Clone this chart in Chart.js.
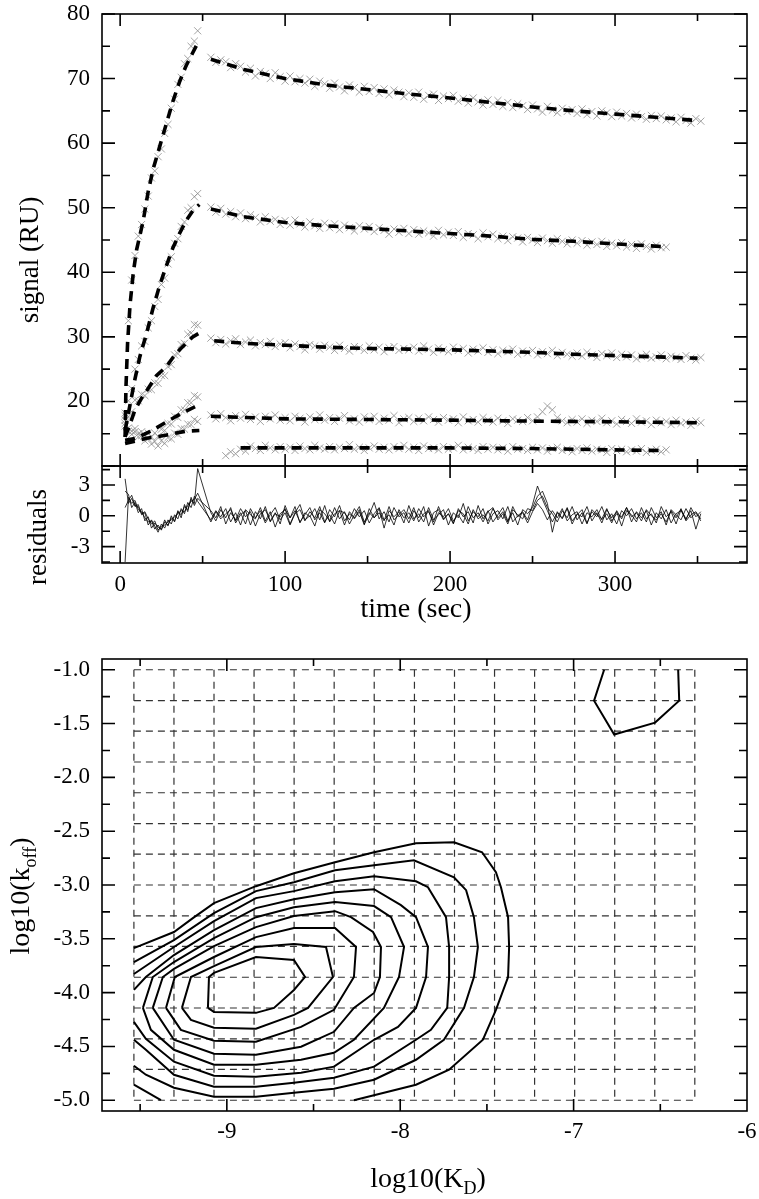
<!DOCTYPE html>
<html>
<head>
<meta charset="utf-8">
<script src="https://cdn.jsdelivr.net/npm/chart.js@4.4.1/dist/chart.umd.min.js"></script>
<style>
  body { margin: 0; background: #fff; }
  #page { position: relative; width: 759px; height: 1199px; overflow: hidden; }
  canvas { position: absolute; left: 0; }
  #signal { top: 0; }
  #resid { top: 446px; }
  #contour { top: 640px; }
</style>
</head>
<body>
<div id="page">
  <canvas id="signal" width="759" height="480"></canvas>
  <canvas id="resid" width="759" height="200"></canvas>
  <canvas id="contour" width="759" height="559"></canvas>
</div>
<script>
// ---- sensorgram data (time in sec, signal in RU) ----
const assocTime = [3,5,7,9,11,13,15,17,19,21,23,25,27,29,31,33,35,37,39,41,43,45,47];
const dissocTime = [55,58,61,64,67,70,73,76,79,82,85,88,91,94,97,100,103,106,109,112,115,118,121,124,127,130,133,136,139,142,145,148,151,154,157,160,163,166,169,172,175,178,181,184,187,190,193,196,199,202,205,208,211,214,217,220,223,226,229,232,235,238,241,244,247,250,253,256,259,262,265,268,271,274,277,280,283,286,289,292,295,298,301,304,307,310,313,316,319,322,325,328,331,334,337,340,343,346,349,352];

const sigAssoc1 = [17.8,32.5,38.8,42.6,45.6,47.4,49.8,51.8,54.6,55.7,57.9,59.1,61.5,62.9,65.4,66.8,69.1,70.2,72.3,73.1,75.0,75.8,77.4];
const sigAssoc2 = [18.2,20.1,22.0,25.0,26.5,28.6,29.3,31.4,32.5,34.7,35.8,38.1,39.1,41.3,42.4,44.5,45.2,47.1,47.8,49.6,50.0,51.7,52.2];
const sigAssoc3 = [17.1,17.6,18.4,20.2,20.1,21.1,20.9,21.9,21.8,22.9,22.8,24.0,24.0,25.4,25.7,27.2,27.4,28.8,29.0,30.4,30.6,31.9,31.8];
const sigAssoc4 = [16.6,15.9,15.4,15.8,15.0,15.3,14.7,15.1,14.5,15.1,14.6,15.7,15.5,16.6,16.5,17.7,17.5,18.7,18.7,19.8,19.8,20.9,20.7];
const sigAssoc5 = [16.2,15.4,14.9,15.3,14.5,14.7,13.9,14.2,13.4,13.8,13.1,13.9,13.5,14.4,14.2,15.1,14.9,15.8,15.7,16.5,16.4,17.2,16.9];

const sigDissoc1 = [73.3,72.5,72.9,72.6,71.7,72.3,71.9,71.0,71.6,70.4,71.1,70.8,70.0,70.9,70.3,69.6,
  70.4,69.5,70.0,69.3,69.9,68.8,69.6,69.2, 68.5,69.3,68.7,68.1,69.0,68.6,67.9,68.8,
  68.0,68.6,67.7,68.4,67.5,68.2,67.9,67.2,67.8, 67.1,67.9,66.8,67.4,67.6,66.6,67.3,66.9,
  67.4,66.5,66.9,66.2,67.0,66.4,65.9,66.7, 66.0,66.6,65.7,66.3,65.5,66.1,65.8,65.2,65.9,
  65.3,64.8,65.7,65.1,64.7,65.4,64.9,65.2, 64.6,65.3,64.4,64.9,64.2,65.0,64.7,64.1,
  64.8,64.2,64.6,63.9,64.5,64.1,63.7,64.3,63.8, 64.2,63.6,63.9,63.3,64.0,63.5,63.1,63.8,63.4];
const sigDissoc2 = [50.1,49.3,49.9,49.0,49.4,48.6,49.2,48.3,48.9,48.5,47.8,48.6,47.9,48.2,47.4,48.0,
  47.3,48.1,47.5,47.0,47.8,47.2,46.8,47.6, 46.9,47.5,46.6,47.3,46.9,46.4,47.2,46.7,
  47.1,46.3,46.9,46.5,45.9,46.7,46.2,46.8,46.0, 46.6,45.9,46.4,46.1,45.6,46.5,45.8,46.2,
  45.7,46.3,45.4,46.0,45.8,45.2,46.1,45.5, 45.9,45.2,45.6,44.9,45.5,45.3,44.7,45.4,45.0,
  44.6,45.3,44.9,44.5,45.2,44.8,44.4,45.0, 44.5,44.9,44.2,44.7,44.3,44.8,44.0,44.5,
  44.1,44.6,43.9,44.3,43.7,44.4,44.0,43.6,44.2, 43.8,43.9];
const sigDissoc3 = [29.8,29.1,29.6,28.9,29.4,29.7,28.8,29.2,29.5,28.6,29.1,28.8,29.3,28.5,28.9,29.1,
  28.3,28.9,28.5,28.0,28.8,28.6,28.1,28.7, 28.4,27.9,28.7,28.2,27.8,28.5,28.3,27.9,
  28.6,28.0,28.4,27.7,28.3,28.5,27.9,28.2,28.0, 28.4,27.8,28.6,28.1,27.6,28.3,28.0,27.7,
  28.4,27.9,28.2,27.5,28.1,27.8,28.3,27.6, 28.0,27.4,27.9,27.7,28.1,27.3,27.8,27.5,27.9,
  27.2,27.7,27.4,27.9,27.1,27.6,27.3,27.0, 27.5,27.0,27.6,27.2,26.8,27.4,27.1,27.5,
  26.8,27.3,26.9,27.2,26.6,27.0,27.3,26.7,26.9, 27.2,26.6,27.0,26.8,26.5,27.1,26.7,26.4,26.8];
const sigDissoc4 = [17.9,17.3,18.1,17.5,17.0,17.8,17.4,18.0,17.2,17.6,16.9,17.7,17.3,17.9,17.1,17.5,
  17.0,17.7,17.4,16.8,17.6,17.2,17.9,17.1, 17.5,16.9,17.4,17.8,17.0,17.3,16.8,17.6,
  17.2,17.7,16.9,17.4,17.1,17.8,16.7,17.3,17.5, 16.9,17.4,17.0,17.6,17.2,16.8,17.5,17.1,
  17.3,16.7,17.6,17.0,17.2,16.8,17.5,17.1, 16.8,17.4,17.0,16.6,17.3,17.1,16.9,17.5,17.0,
  17.6,18.4,19.3,18.7,17.5,17.0,16.7,17.2, 16.8,17.3,16.6,17.1,16.9,17.4,16.7,17.0,
  16.5,17.2,16.9,16.6,17.3,16.8,17.0,16.4,17.1, 16.7,16.9,16.4,17.1,16.6,16.8,16.3,17.0,16.7];
const sigDissoc5 = [null,null,null,11.6,12.2,11.9,12.6,12.3,13.1,12.7,12.4,13.2,12.8,12.5,13.0,12.6,
  12.9,12.4,13.1,12.7,12.5,13.2,12.8,12.6, 13.0,12.5,12.9,12.7,13.3,12.6,12.9,12.4,
  12.8,13.1,12.6,12.9,12.5,13.0,12.7,13.2,12.6, 12.9,12.4,13.1,12.7,12.8,12.5,13.0,12.6,
  12.8,13.2,12.5,12.9,12.7,12.4,13.0,12.6, 12.9,12.5,12.8,12.3,13.0,12.6,12.7,12.4,12.9,
  12.5,12.8,12.3,12.7,12.9,12.4,12.6,12.2, 12.7,12.4,12.8,12.3,12.6,12.5,12.1,12.7,
  12.4,12.6,12.2,12.5,12.3,12.7,12.1,12.4,12.6, 12.2,12.5];

// fitted curves (association and dissociation phases)
const fitAssocT1 = [3,3.5,4.5,6,8,10,14,17,20,24,28,32,36,40,44,48];
const fitAssoc1 = [14.5,22,29,35,40,43.5,48,52.5,56,59.5,63,66.5,69.5,72,74,76];
const fitAssocT2 = [3,6,9,12,16,20,24,28,32,36,40,44,48];
const fitAssoc2 = [15.5,19.5,23.5,27,30.5,34.5,38,41,43.8,46,48,49.5,50.5];
const fitAssocT3 = [3,6,9,13,17,22,28,32,36,40,44,48];
const fitAssoc3 = [14.5,16.5,18.7,20.5,22,24,25.4,26.8,28,29,30,30.6];
const fitAssocT4 = [3,8,12,17,22,28,34,40,48];
const fitAssoc4 = [14,14.2,14.6,15.2,15.9,16.8,17.7,18.5,19.5];
const fitAssocT5 = [3,10,16,24,32,40,48];
const fitAssoc5 = [13.5,13.9,14.3,14.6,15,15.4,15.5];

const fitDissocT1 = [55,75,100,125,150,175,200,225,250,275,300,325,350];
const fitDissoc1 = [73,71.4,70,69,68.3,67.6,67,66.3,65.6,65,64.5,64,63.5];
const fitDissocT2 = [55,75,100,125,150,175,200,225,250,275,300,328];
const fitDissoc2 = [49.8,48.6,47.7,47.2,46.8,46.4,46,45.6,45.1,44.8,44.4,44];
const fitDissocT3 = [57,75,100,125,150,175,200,225,250,275,300,325,350];
const fitDissoc3 = [29.4,29,28.7,28.4,28.2,28.1,28,27.8,27.6,27.3,27.1,26.9,26.7];
const fitDissocT4 = [55,100,150,200,250,300,350];
const fitDissoc4 = [17.7,17.3,17.2,17.1,16.95,16.85,16.7];
const fitDissocT5 = [73,100,150,200,250,300,328];
const fitDissoc5 = [12.8,12.8,12.8,12.8,12.7,12.5,12.4];

// residuals
const resAssoc1 = [-4.5,1.8,1.2,1.5,0.6,0.4,-0.2,-0.6,-0.5,-1.3,-0.9,-1.4,-0.6,-0.9,-0.2,-0.5,0.4,0.1,0.9,0.6,1.6,1.2,4.6];
const resAssoc2 = [3.6,1.2,1.7,0.9,1.1,0.1,0.3,-0.9,-0.4,-1.0,-1.6,-0.8,-1.2,-0.4,-0.8,0.1,-0.3,0.7,0.2,1.3,0.8,1.9,1.4];
const resAssoc3 = [2.4,2.1,0.8,1.3,0.3,0.7,-0.5,-0.1,-1.2,-0.7,-1.1,-1.3,-0.4,-1.0,0.0,-0.6,0.5,-0.2,1.1,0.4,1.8,1.0,1.7];
const resAssoc4 = [0.8,1.5,2.0,1.0,0.9,0.2,0.4,-0.3,-0.8,-0.5,-1.4,-1.0,-0.9,-0.6,-0.4,-0.1,0.2,0.5,0.4,1.0,1.4,1.6,2.2];
const resDissoc1 = [0.3,-0.5,0.6,-0.2,0.8,-0.7,0.1,0.5,-0.9,0.4, -0.3,0.9,-0.6,0.2,-0.1,0.7,-0.8,0.3,1.1,-0.4,
  0.0,-1.0,0.6,0.2,-0.5,0.8,-0.3,0.4,-0.8,0.1, 0.9,-0.6,0.3,-0.2,0.7,-1.2,0.5,-0.1,0.4,-0.7,
  1.0,-0.3,0.2,-0.6,0.8,-0.4,0.1,0.6,-0.9,0.3, -0.2,1.2,-0.5,0.4,-0.1,0.7,-0.8,0.2,0.5,-0.3,
  0.9,-0.6,0.0,0.4,-0.4,1.1,2.9,1.6,0.5,-0.6, 0.3,-0.2,0.8,-0.5,0.1,0.6,-0.7,0.4,-0.1,0.9,
  -0.4,0.2,-0.8,0.5,0.0,0.7,-0.3,0.3,-0.6,0.8, -0.2,0.4,-0.9,0.6,0.1,-0.4,0.7,-0.2,0.3,-0.5];
const resDissoc2 = [-0.4,0.5,-0.1,0.7,-0.6,0.3,-0.9,0.6,0.1,-0.3, 0.8,-0.5,0.4,-1.1,0.2,0.6,-0.2,0.9,-0.7,0.3,
  -0.1,0.7,-0.4,1.0,-0.6,0.2,0.5,-0.9,0.4,-0.2, 0.6,-0.8,0.1,1.3,-0.3,0.4,-0.6,0.8,-0.1,0.3,
  -0.7,0.5,-0.2,0.9,-1.0,0.3,0.6,-0.4,0.2,-0.8, 0.7,-0.1,0.4,-0.7,1.0,-0.3,0.5,-0.6,0.1,0.8,
  -0.5,0.3,-0.9,0.6,0.2,0.8,1.9,2.4,1.2,-1.6, 0.4,-0.3,0.7,-0.8,0.2,-0.1,0.9,-0.5,0.3,-0.7,
  0.6,-0.2,0.4,-1.0,0.5,0.1,-0.6,0.8,-0.3,0.2, -0.7,0.9,-0.1,0.4,-0.8,0.6,-0.3,0.5,-1.3,0.2];
const resDissoc3 = [0.5,-0.2,0.9,-0.8,0.3,-0.4,0.7,-0.1,0.4,-1.0, 0.2,0.6,-0.5,0.3,-0.8,1.0,-0.2,0.5,-0.6,0.1,
  0.8,-0.4,0.3,-0.7,0.6,-0.1,1.0,-0.5,0.2,-0.3, 0.4,-0.9,0.7,-0.2,0.3,-0.5,0.9,-0.4,0.1,0.6,
  -0.3,0.8,-0.6,0.2,0.5,-0.9,0.3,-0.1,0.7,-0.5, 0.1,-0.7,0.9,-0.2,0.3,-0.6,0.4,0.8,-0.4,0.2,
  -0.8,0.6,0.1,-0.3,0.7,0.5,1.5,1.9,0.8,0.2, -0.6,0.5,-0.2,0.9,-0.4,0.3,-0.8,0.6,0.1,-0.3,
  0.7,-0.5,0.2,-0.1,0.8,-0.6,0.4,-0.2,0.5,-0.9, 0.3,-0.3,0.6,-0.7,0.2,0.5,-0.4,0.8,-0.1,0.4];
const resDissoc4 = [-0.6,0.4,-0.3,0.2,0.6,-0.5,0.3,-0.8,0.7,-0.2, 0.5,-0.7,0.1,0.8,-0.4,0.3,-0.9,0.2,0.6,-0.5,
  0.4,-0.2,0.9,-0.6,0.1,-0.8,0.5,0.3,-0.4,0.7, -0.1,0.5,-0.7,0.2,0.8,-0.4,0.1,-0.9,0.6,-0.2,
  0.3,-0.5,0.7,-0.1,0.4,-0.6,0.9,-0.3,0.2,-0.7, 0.5,0.2,-0.8,0.6,-0.3,0.1,-0.5,0.7,-0.2,0.4,
  -0.6,0.9,-0.1,0.3,-0.7,0.4,1.2,0.6,-0.4,0.5, -0.2,0.7,-0.5,0.1,0.4,-0.8,0.3,-0.1,0.6,-0.4,
  0.2,-0.7,0.5,-0.3,0.8,-0.1,0.3,-0.5,0.6,0.0, -0.4,0.2,-0.6,0.5,-0.2,0.7,-0.5,0.1,0.4,-0.3];

// tick marks
const timeTicks = [0,50,100,150,200,250,300,350];
const timeMajor = [0,100,200,300];
const signalTicks = [10,15,20,25,30,35,40,45,50,55,60,65,70,75,80];
const signalMajor = [10,20,30,40,50,60,70,80];
const residTicks = [-4.5,-3,-1.5,0,1.5,3,4.5];
const residMajor = [-3,0,3];

// ---- error surface: log10(KD) vs log10(koff) ----
const kdGrid = [-9.536,-9.305,-9.074,-8.843,-8.612,-8.381,-8.150,-7.918,-7.687,-7.456,-7.225,-6.994,-6.763,-6.532,-6.301];
const koffGrid = [-1.0,-1.286,-1.571,-1.857,-2.143,-2.429,-2.714,-3.0,-3.286,-3.571,-3.857,-4.143,-4.429,-4.714,-5.0];
const kdTicks = [-9.5,-9,-8.5,-8,-7.5,-7,-6.5];
const kdMajor = [-9,-8,-7];
const koffTicks = [-5,-4.75,-4.5,-4.25,-4,-3.75,-3.5,-3.25,-3,-2.75,-2.5,-2.25,-2,-1.75,-1.5,-1.25,-1];
const koffMajor = [-5,-4.5,-4,-3.5,-3,-2.5,-2,-1.5,-1];

const contour1 = [[-9.109,-4.142],[-9.103,-3.855],[-9.074,-3.817],[-8.832,-3.669],[-8.613,-3.697],[-8.549,-3.855],[-8.613,-3.975],[-8.728,-4.142],[-8.832,-4.188],[-9.074,-4.179],[-9.109,-4.142]];
const contour2 = [[-9.259,-4.142],[-9.207,-3.855],[-9.074,-3.753],[-8.832,-3.576],[-8.613,-3.549],[-8.428,-3.576],[-8.388,-3.855],[-8.532,-4.142],[-8.613,-4.207],[-8.832,-4.336],[-9.074,-4.327],[-9.207,-4.253],[-9.259,-4.142]];
const contour3 = [[-9.351,-4.142],[-9.300,-3.855],[-9.074,-3.669],[-8.832,-3.484],[-8.613,-3.400],[-8.376,-3.400],[-8.255,-3.576],[-8.267,-3.855],[-8.382,-4.160],[-8.572,-4.318],[-8.832,-4.457],[-9.074,-4.447],[-9.265,-4.346],[-9.351,-4.142]];
const contour4 = [[-9.427,-4.142],[-9.369,-3.855],[-9.305,-3.780],[-9.074,-3.567],[-8.832,-3.391],[-8.613,-3.289],[-8.376,-3.243],[-8.284,-3.299],[-8.157,-3.437],[-8.111,-3.576],[-8.117,-3.855],[-8.151,-4.003],[-8.267,-4.142],[-8.382,-4.364],[-8.572,-4.503],[-8.832,-4.577],[-9.074,-4.568],[-9.305,-4.438],[-9.427,-4.142]];
const contour5 = [[-9.484,-4.142],[-9.427,-3.855],[-9.305,-3.716],[-9.074,-3.493],[-8.832,-3.299],[-8.613,-3.206],[-8.376,-3.159],[-8.151,-3.196],[-8.053,-3.299],[-7.978,-3.576],[-8.007,-3.855],[-8.094,-4.142],[-8.267,-4.438],[-8.382,-4.559],[-8.572,-4.624],[-8.832,-4.670],[-9.074,-4.670],[-9.305,-4.531],[-9.438,-4.346],[-9.484,-4.142]];
const contour6 = [[-9.536,-3.975],[-9.467,-3.855],[-9.305,-3.651],[-9.074,-3.419],[-8.832,-3.215],[-8.613,-3.132],[-8.376,-3.067],[-8.151,-3.039],[-7.996,-3.187],[-7.909,-3.299],[-7.840,-3.576],[-7.851,-3.855],[-7.909,-4.142],[-8.013,-4.318],[-8.151,-4.438],[-8.382,-4.688],[-8.572,-4.744],[-8.832,-4.781],[-9.074,-4.772],[-9.305,-4.642],[-9.467,-4.429],[-9.536,-4.272]];
const contour7 = [[-9.536,-3.827],[-9.305,-3.576],[-9.074,-3.335],[-8.832,-3.122],[-8.613,-3.057],[-8.376,-2.965],[-8.151,-2.918],[-7.909,-2.965],[-7.840,-3.020],[-7.736,-3.299],[-7.718,-3.576],[-7.718,-3.855],[-7.729,-4.142],[-7.823,-4.346],[-7.909,-4.438],[-8.151,-4.688],[-8.382,-4.791],[-8.613,-4.837],[-8.832,-4.875],[-9.074,-4.875],[-9.305,-4.763],[-9.467,-4.531],[-9.536,-4.438]];
const contour8 = [[-9.536,-3.716],[-9.305,-3.512],[-9.074,-3.262],[-8.832,-3.057],[-8.613,-2.974],[-8.376,-2.863],[-8.151,-2.817],[-7.921,-2.770],[-7.690,-2.928],[-7.620,-3.048],[-7.575,-3.299],[-7.552,-3.576],[-7.575,-3.855],[-7.632,-4.142],[-7.748,-4.438],[-7.909,-4.624],[-8.151,-4.809],[-8.382,-4.893],[-8.613,-4.930],[-8.832,-4.967],[-9.074,-4.967],[-9.305,-4.884],[-9.467,-4.763],[-9.536,-4.679]];
const contour9 = [[-9.536,-3.586],[-9.305,-3.437],[-9.196,-3.308],[-9.074,-3.169],[-8.832,-3.011],[-8.613,-2.891],[-8.376,-2.789],[-8.151,-2.696],[-7.909,-2.613],[-7.690,-2.603],[-7.528,-2.696],[-7.448,-2.881],[-7.419,-3.020],[-7.378,-3.299],[-7.372,-3.576],[-7.378,-3.855],[-7.448,-4.160],[-7.523,-4.438],[-7.718,-4.716],[-7.909,-4.856],[-8.267,-5.0]];
const contour9b = [[-9.536,-4.856],[-9.380,-5.0]];
const contourTop = [[-6.824,-1.0],[-6.882,-1.287],[-6.766,-1.602],[-6.530,-1.491],[-6.391,-1.287],[-6.397,-1.0]];

const FONT = '"Liberation Serif", "Times New Roman", serif';
Chart.defaults.font.family = FONT;
Chart.defaults.font.size = 23;
Chart.defaults.color = '#000';

// frame box plus inward tick marks on all four sides
const frameTicks = {
  id: 'frameTicks',
  afterDatasetsDraw(chart, args, opts) {
    const { ctx, chartArea: a, scales } = chart;
    ctx.save();
    ctx.strokeStyle = '#000';
    ctx.lineWidth = 1.6;
    ctx.strokeRect(a.left, a.top, a.right - a.left, a.bottom - a.top);
    ctx.beginPath();
    opts.xTicks.forEach(v => {
      const p = scales.x.getPixelForValue(v);
      const len = opts.xMajor.includes(v) ? 12 : 7;
      ctx.moveTo(p, a.top); ctx.lineTo(p, a.top + len);
      ctx.moveTo(p, a.bottom); ctx.lineTo(p, a.bottom - len);
    });
    opts.yTicks.forEach(v => {
      const p = scales.y.getPixelForValue(v);
      const len = opts.yMajor.includes(v) ? 13 : 8;
      ctx.moveTo(a.left, p); ctx.lineTo(a.left + len, p);
      ctx.moveTo(a.right, p); ctx.lineTo(a.right - len, p);
    });
    ctx.stroke();
    ctx.restore();
  }
};

// axis titles, with subscripts where needed
const axisTitles = {
  id: 'axisTitles',
  afterDraw(chart, args, opts) {
    const ctx = chart.ctx;
    opts.items.forEach(it => {
      ctx.save();
      ctx.translate(it.x, it.y);
      if (it.rotate) ctx.rotate(-Math.PI / 2);
      ctx.fillStyle = '#000';
      ctx.textBaseline = 'middle';
      const big = it.size + 'px ' + FONT;
      const small = Math.round(it.size * 0.66) + 'px ' + FONT;
      let w = 0;
      it.parts.forEach(p => { ctx.font = p.sub ? small : big; w += ctx.measureText(p.t).width; });
      let x = -w / 2;
      it.parts.forEach(p => {
        ctx.font = p.sub ? small : big;
        ctx.fillText(p.t, x, p.sub ? it.size * 0.32 : 0);
        x += ctx.measureText(p.t).width;
      });
      ctx.restore();
    });
  }
};
Chart.register(frameTicks, axisTitles);

function xy(ts, vs) { return vs.map((v, i) => ({ x: ts[i], y: v })); }
function pairs(c) { return c.map(p => ({ x: p[0], y: p[1] })); }

function yAxis(min, max, step, fmt) {
  return {
    type: 'linear', min, max,
    grid: { display: false, drawTicks: false }, border: { display: false },
    ticks: { stepSize: step, padding: 12, autoSkip: false, includeBounds: false, callback: fmt },
    afterFit: s => { s.width = 102; s.paddingTop = 0; s.paddingBottom = 0; }
  };
}
function xAxis(min, max, step, fmt, h, pad) {
  return {
    type: 'linear', min, max,
    grid: { display: false, drawTicks: false }, border: { display: false },
    ticks: { stepSize: step, padding: pad, autoSkip: false, includeBounds: false, maxRotation: 0, callback: fmt },
    afterFit: s => { s.height = h; s.paddingLeft = 0; s.paddingRight = 0; }
  };
}

const baseOpts = {
  responsive: false, animation: false,
  plugins: { legend: { display: false }, tooltip: { enabled: false } }
};

// ---- top panel: signal ----
const sigAssoc = [sigAssoc1, sigAssoc2, sigAssoc3, sigAssoc4, sigAssoc5];
const sigDissoc = [sigDissoc1, sigDissoc2, sigDissoc3, sigDissoc4, sigDissoc5];
const fitA = [[fitAssocT1, fitAssoc1], [fitAssocT2, fitAssoc2], [fitAssocT3, fitAssoc3], [fitAssocT4, fitAssoc4], [fitAssocT5, fitAssoc5]];
const fitD = [[fitDissocT1, fitDissoc1], [fitDissocT2, fitDissoc2], [fitDissocT3, fitDissoc3], [fitDissocT4, fitDissoc4], [fitDissocT5, fitDissoc5]];

const sigSets = [];
sigAssoc.forEach((a, i) => {
  sigSets.push({
    data: xy(assocTime, a).concat(xy(dissocTime, sigDissoc[i])),
    showLine: false, order: 2,
    pointStyle: 'crossRot', pointRadius: 5, pointBorderWidth: 1,
    pointBorderColor: 'rgba(140,140,140,0.8)', pointBackgroundColor: 'rgba(0,0,0,0)'
  });
});
fitA.concat(fitD).forEach(f => {
  sigSets.push({
    data: xy(f[0], f[1]), showLine: true, order: 0,
    borderColor: '#000', borderWidth: 3.6, borderDash: [10, 7], pointRadius: 0, tension: 0
  });
});

new Chart(document.getElementById('signal'), {
  type: 'scatter',
  data: { datasets: sigSets },
  options: Object.assign({}, baseOpts, {
    layout: { padding: { left: 0, right: 12, top: 14, bottom: 14 } },
    scales: {
      x: { type: 'linear', min: -11, max: 380, display: false },
      y: yAxis(10, 80, 10, v => v >= 20 ? String(v) : '')
    },
    plugins: Object.assign({}, baseOpts.plugins, {
      frameTicks: { xTicks: timeTicks, xMajor: timeMajor, yTicks: signalTicks, yMajor: signalMajor },
      axisTitles: { items: [{ parts: [{ t: 'signal (RU)' }], x: 31, y: 260, rotate: true, size: 27 }] }
    })
  })
});

// ---- middle panel: residuals ----
const resA = [resAssoc1, resAssoc2, resAssoc3, resAssoc4];
const resD = [resDissoc1, resDissoc2, resDissoc3, resDissoc4];
new Chart(document.getElementById('resid'), {
  type: 'scatter',
  data: {
    datasets: resA.map((a, i) => ({
      data: xy(assocTime, a).concat(xy(dissocTime, resD[i])),
      showLine: true, borderColor: '#000', borderWidth: 0.8, pointRadius: 0, tension: 0
    }))
  },
  options: Object.assign({}, baseOpts, {
    layout: { padding: { left: 0, right: 12, top: 20, bottom: 0 } },
    scales: {
      x: xAxis(-11, 380, 50, v => (v % 100 === 0 ? String(v) : ''), 83, 8),
      y: yAxis(-4.6, 4.85, 3, v => String(v))
    },
    plugins: Object.assign({}, baseOpts.plugins, {
      frameTicks: { xTicks: timeTicks, xMajor: timeMajor, yTicks: residTicks, yMajor: residMajor },
      axisTitles: { items: [
        { parts: [{ t: 'residuals' }], x: 39, y: 91, rotate: true, size: 27 },
        { parts: [{ t: 'time (sec)' }], x: 416, y: 164, rotate: false, size: 28 }
      ] }
    })
  })
});

// ---- bottom panel: error contours ----
const gridSets = kdGrid.map(g => ({ data: [{ x: g, y: koffGrid[0] }, { x: g, y: koffGrid[koffGrid.length - 1] }] }))
  .concat(koffGrid.map(g => ({ data: [{ x: kdGrid[0], y: g }, { x: kdGrid[kdGrid.length - 1], y: g }] })))
  .map(d => Object.assign(d, { showLine: true, order: 2, borderColor: '#333', borderWidth: 1.2, borderDash: [7, 5], pointRadius: 0 }));
const contours = [contour1, contour2, contour3, contour4, contour5, contour6, contour7, contour8, contour9, contour9b, contourTop];
const contourSets = contours.map(c => ({
  data: pairs(c), showLine: true, order: 0, borderColor: '#000', borderWidth: 2, pointRadius: 0, tension: 0
}));

new Chart(document.getElementById('contour'), {
  type: 'scatter',
  data: { datasets: gridSets.concat(contourSets) },
  options: Object.assign({}, baseOpts, {
    layout: { padding: { left: 0, right: 12, top: 19, bottom: 0 } },
    scales: {
      x: xAxis(-9.72, -6, 1, v => String(v), 88, 7),
      y: yAxis(-5.1, -0.9, 0.5, v => v.toFixed(1))
    },
    plugins: Object.assign({}, baseOpts.plugins, {
      frameTicks: { xTicks: kdTicks, xMajor: kdMajor, yTicks: koffTicks, yMajor: koffMajor },
      axisTitles: { items: [
        { parts: [{ t: 'log10(k' }, { t: 'off', sub: true }, { t: ')' }], x: 22, y: 256, rotate: true, size: 28 },
        { parts: [{ t: 'log10(K' }, { t: 'D', sub: true }, { t: ')' }], x: 428, y: 540, rotate: false, size: 28 }
      ] }
    })
  })
});
</script>
</body>
</html>
